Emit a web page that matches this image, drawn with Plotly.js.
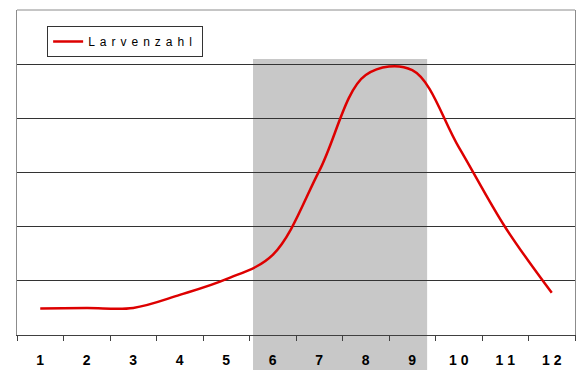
<!DOCTYPE html>
<html>
<head>
<meta charset="utf-8">
<script src="https://cdn.plot.ly/plotly-3.0.1.min.js"></script>
<style>
  html, body { margin: 0; padding: 0; background: #ffffff; }
  #chart { width: 580px; height: 383px; }
  .legendtext { letter-spacing: 5px; }
</style>
</head>
<body>
<div id="chart"></div>
<script>
// Data
const months = [1, 2, 3, 4, 5, 6, 7, 8, 9, 10, 11, 12];
const tickLabels = ['1', '2', '3', '4', '5', '6', '7', '8', '9', '1 0', '1 1', '1 2'];
const larvenzahl = [0.49, 0.50, 0.50, 0.74, 1.03, 1.48, 3.03, 4.80, 4.89, 3.47, 1.99, 0.78];
const seriesName = 'Larvenzahl';

const trace = {
  type: 'scatter',
  mode: 'lines',
  x: months,
  y: larvenzahl,
  name: seriesName,
  line: { color: '#dd0000', width: 2.5, shape: 'spline', smoothing: 1 },
  showlegend: true
};

const layout = {
  width: 580,
  height: 383,
  margin: { l: 17, r: 5, t: 10, b: 48 },
  paper_bgcolor: '#ffffff',
  plot_bgcolor: '#ffffff',
  showlegend: true,
  legend: {
    x: 0.054, y: 0.951, xanchor: 'left', yanchor: 'top',
    bgcolor: '#ffffff', bordercolor: '#333333', borderwidth: 1,
    font: { family: 'Arial, "Liberation Sans", sans-serif', size: 12, color: '#000000' }
  },
  xaxis: {
    type: 'category',
    range: [-0.5, months.length - 0.5],
    tickmode: 'array',
    tickvals: months,
    ticktext: tickLabels,
    tickson: 'boundaries',
    ticks: 'outside',
    ticklen: 5,
    tickwidth: 1,
    tickcolor: '#404040',
    ticklabelstandoff: 12,
    showline: true,
    linecolor: '#404040',
    linewidth: 1,
    showgrid: false,
    zeroline: false,
    tickfont: { family: 'Arial, "Liberation Sans", sans-serif', size: 14, color: '#000000', weight: 'bold' }
  },
  yaxis: {
    range: [0, 6],
    tickmode: 'array',
    tickvals: [1, 2, 3, 4, 5],
    showticklabels: false,
    ticks: '',
    showgrid: true,
    gridcolor: '#333333',
    gridwidth: 1,
    zeroline: false,
    showline: true,
    linecolor: '#8c8c8c',
    linewidth: 1,
    mirror: true
  },
  shapes: [
    {
      type: 'rect', xref: 'paper', yref: 'paper',
      x0: 0.423, x1: 0.735, y0: -0.108, y1: 0.849,
      fillcolor: '#c8c8c8', line: { width: 0 }, layer: 'below'
    },
    {
      type: 'line', xref: 'paper', yref: 'paper',
      x0: 0, x1: 1, y0: 1, y1: 1,
      line: { color: '#8c8c8c', width: 1 }, layer: 'above'
    }
  ]
};

Plotly.newPlot('chart', [trace], layout, { displayModeBar: false, staticPlot: true });
</script>
</body>
</html>
